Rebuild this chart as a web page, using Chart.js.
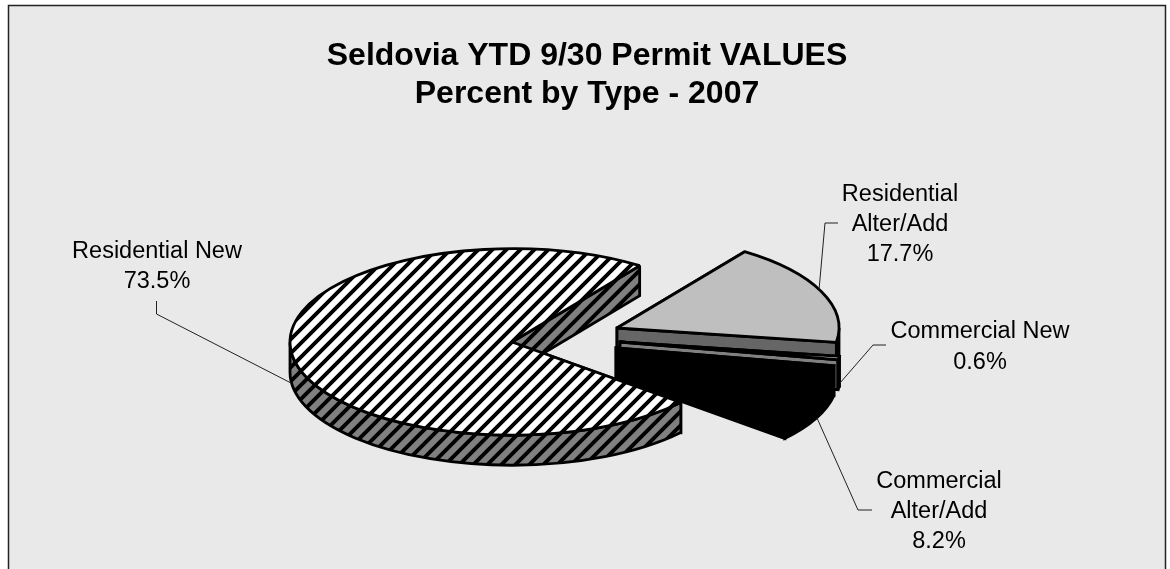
<!DOCTYPE html>
<html>
<head>
<meta charset="utf-8">
<title>Seldovia YTD 9/30 Permit VALUES</title>
<script src="https://cdn.jsdelivr.net/npm/chart.js@4/dist/chart.umd.min.js"></script>
<style>
  html, body { margin: 0; padding: 0; background: #fff; overflow: hidden; }
  canvas { display: block; }
</style>
</head>
<body>
<canvas id="pie" width="1170" height="569"></canvas>
<script>
const titleLines = ["Seldovia YTD 9/30 Permit VALUES", "Percent by Type - 2007"];
const categories = ["Residential New", "Residential Alter/Add", "Commercial New", "Commercial Alter/Add"];
const percents = [73.5, 17.7, 0.6, 8.2];

// how each category name wraps in its callout
const nameLines = [["Residential New"], ["Residential", "Alter/Add"], ["Commercial New"], ["Commercial", "Alter/Add"]];

// tilted pie layout
const pieX = 512, pieY = 342, tilt = 0.42, depth = 30;
const explodeX = [0, 105, 108, 104];
const explodeY = [0, -14, 0, 6];

const labelX = [157, 900, 980, 939];
const labelY = [257.5, 201, 338, 488];
const labelStep = [30.5, 30, 31, 30];
const leaders = [
  [[156.5, 301], [156.5, 314], [291, 383]],
  [[838, 223], [825, 223], [819, 290]],
  [[886, 345], [873, 345], [840, 383]],
  [[872, 510], [858, 510], [817, 418]],
];

function hatch(bg) {
  const size = 14;
  const tile = document.createElement("canvas");
  tile.width = tile.height = size;
  const c = tile.getContext("2d");
  c.fillStyle = bg;
  c.fillRect(0, 0, size, size);
  c.strokeStyle = "#000";
  c.lineWidth = 3.9;
  c.beginPath();
  c.moveTo(0, size); c.lineTo(size, 0);
  c.moveTo(-2, 2); c.lineTo(2, -2);
  c.moveTo(size - 2, size + 2); c.lineTo(size + 2, size - 2);
  c.stroke();
  return c.createPattern(tile, "repeat");
}

const ctxMain = document.getElementById("pie").getContext("2d");
const topColors = [hatch("#fff"), "#bfbfbf", "#fff", "#000"];
const sideColors = [hatch("#808080"), "#666", "#808080", "#000"];

function paint(ctx, fill) {
  ctx.fillStyle = fill;
  ctx.fill();
  ctx.stroke();
}

function drawWall(ctx, cx, cy, r, t, fill) {
  const ex = cx + r * Math.cos(t), ey = cy + r * tilt * Math.sin(t);
  ctx.beginPath();
  ctx.moveTo(cx, cy);
  ctx.lineTo(ex, ey);
  ctx.lineTo(ex, ey + depth);
  ctx.lineTo(cx, cy + depth);
  ctx.closePath();
  paint(ctx, fill);
}

// only the part of the rim facing the viewer (0..PI, wrapped) gets a side band
function drawBand(ctx, cx, cy, r, start, end, fill) {
  for (let k = -1; k <= 1; k++) {
    const a = Math.max(start, k * 2 * Math.PI);
    const b = Math.min(end, k * 2 * Math.PI + Math.PI);
    if (b <= a) continue;
    ctx.beginPath();
    ctx.ellipse(cx, cy, r, r * tilt, 0, a, b);
    ctx.ellipse(cx, cy + depth, r, r * tilt, 0, b, a, true);
    ctx.closePath();
    paint(ctx, fill);
  }
}

const tiltedPie = {
  id: "tiltedPie",
  beforeDraw(chart) {
    const ctx = chart.ctx;
    ctx.save();
    ctx.fillStyle = "#e9e9e9";
    ctx.fillRect(9, 6, 1156, 563);
    ctx.strokeStyle = "#222";
    ctx.lineWidth = 1.5;
    ctx.beginPath();
    ctx.moveTo(8.5, 569);
    ctx.lineTo(8.5, 5.5);
    ctx.lineTo(1165.5, 5.5);
    ctx.lineTo(1165.5, 569);
    ctx.stroke();
    ctx.restore();
  },
  beforeDatasetsDraw(chart) {
    const ctx = chart.ctx;
    ctx.save();
    ctx.strokeStyle = "#000";
    ctx.lineWidth = 2.8;
    ctx.lineJoin = "miter";
    ctx.miterLimit = 2;
    chart.getDatasetMeta(0).data.forEach((arc, i) => {
      const cx = pieX + explodeX[i], cy = pieY + explodeY[i];
      const r = arc.outerRadius;
      drawWall(ctx, cx, cy, r, arc.startAngle, sideColors[i]);
      drawWall(ctx, cx, cy, r, arc.endAngle, sideColors[i]);
      drawBand(ctx, cx, cy, r, arc.startAngle, arc.endAngle, sideColors[i]);
      ctx.beginPath();
      ctx.moveTo(cx, cy);
      ctx.ellipse(cx, cy, r, r * tilt, 0, arc.startAngle, arc.endAngle);
      ctx.closePath();
      paint(ctx, arc.options.backgroundColor);
    });
    ctx.restore();
    return false;
  },
  afterDraw(chart) {
    const ctx = chart.ctx;
    ctx.save();
    ctx.strokeStyle = "#222";
    ctx.lineWidth = 1;
    leaders.forEach(pts => {
      ctx.beginPath();
      pts.forEach((p, j) => (j ? ctx.lineTo(p[0], p[1]) : ctx.moveTo(p[0], p[1])));
      ctx.stroke();
    });
    ctx.fillStyle = "#000";
    ctx.font = "23.5px 'Liberation Sans'";
    ctx.textAlign = "center";
    ctx.textBaseline = "alphabetic";
    categories.forEach((name, i) => {
      const lines = nameLines[i].concat(percents[i].toFixed(1) + "%");
      lines.forEach((line, j) => ctx.fillText(line, labelX[i], labelY[i] + j * labelStep[i]));
    });
    ctx.restore();
  },
};

new Chart(ctxMain, {
  type: "pie",
  data: {
    labels: categories,
    datasets: [{
      data: percents,
      backgroundColor: topColors,
      borderColor: "#000",
      borderWidth: 2,
      radius: 222,
    }],
  },
  options: {
    responsive: false,
    animation: false,
    rotation: 130.5,
    layout: { padding: { left: 4 } },
    plugins: {
      legend: { display: false },
      tooltip: { enabled: false },
      title: {
        display: true,
        text: titleLines,
        color: "#000",
        font: { family: "'Liberation Sans'", size: 32, weight: "bold", lineHeight: 1.21 },
        padding: { top: 36.5, bottom: 0 },
      },
    },
  },
  plugins: [tiltedPie],
});
</script>
</body>
</html>
